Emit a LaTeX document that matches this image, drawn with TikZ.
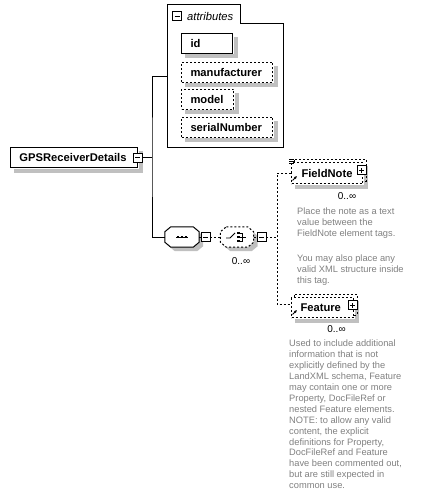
\documentclass[tikz,border=0pt]{standalone}
\usepackage{fontspec}
\setmainfont{Liberation Sans}
\usetikzlibrary{calc,arrows.meta}
\definecolor{doctext}{RGB}{128,128,128}
\definecolor{shadowgray}{RGB}{192,192,192}

% octagon round a node, shifted right and down by (#2,#2)
\newcommand{\octpath}[2]{($(#1.north west)+(6+#2,#2)$) -- ($(#1.north east)+(-6+#2,#2)$) -- ($(#1.north east)+(#2,5+#2)$) -- ($(#1.south east)+(#2,-5+#2)$) -- ($(#1.south east)+(-6+#2,#2)$) -- ($(#1.south west)+(6+#2,#2)$) -- ($(#1.south west)+(#2,-5+#2)$) -- ($(#1.north west)+(#2,5+#2)$) -- cycle}

\begin{document}
\begin{tikzpicture}[
  x=1pt,
  y=-1pt
]

  \path[use as bounding box] (0,0) rectangle (426,497);

  \tikzstyle{elemnode}=[draw,rectangle,fill=white,line width=1pt,minimum height=20pt,inner xsep=9pt,inner ysep=0pt,anchor=north west,align=left,font=\fontsize{11.2}{13}\selectfont\bfseries]
  \tikzstyle{optnode}=[elemnode,dash pattern=on 2pt off 2pt]
  \tikzstyle{octnode}=[rectangle,minimum width=34pt,minimum height=20pt,inner sep=0pt]
  \tikzstyle{minusnode}=[draw,rectangle,fill=white,line width=0.8pt,minimum size=9pt,inner sep=0pt,path picture={\draw[line width=0.8pt] ([xshift=2pt]path picture bounding box.west) -- ([xshift=-2pt]path picture bounding box.east);}]
  \tikzstyle{plusnode}=[minusnode,path picture={\draw[line width=0.8pt] ([xshift=2pt]path picture bounding box.west) -- ([xshift=-2pt]path picture bounding box.east) ([yshift=2pt]path picture bounding box.south) -- ([yshift=-2pt]path picture bounding box.north);}]
  \tikzstyle{docnode}=[anchor=north west,align=left,inner sep=0pt,text=doctext,font=\fontsize{9.3}{10.9}\selectfont]
  \tikzstyle{multnode}=[inner sep=0pt,font=\fontsize{10}{12}\selectfont]

  \tikzstyle{wire}=[draw,line width=1pt]
  \tikzstyle{dashwire}=[wire,dash pattern=on 2pt off 2pt]
  \tikzstyle{stack}=[draw,line width=1pt,dash pattern=on 2pt off 2pt]
  \tikzstyle{icon}=[draw,line width=0.8pt]
  \tikzstyle{refptr}=[draw,-{Latex[length=3pt,width=3pt]},line width=0.8pt]
  \tikzstyle{boxshadow}=[draw=shadowgray,line width=4pt]

  % attribute group
  \draw[line width=1pt] (167,5) -- (240,5) -- (240,24) -- (283,24) -- (283,148) -- (167,148) -- cycle;
  \coordinate (attrs) at (167,77);
  \node[minusnode] (attrbtn) at (177,16) {};
  \node[anchor=west,inner sep=0pt,font=\fontsize{11.2}{13}\selectfont\itshape] (attrlabel) at (187,16) {attributes};

  % nodes
  \node[elemnode,text width=109pt] (gps) at (10,147) {GPSReceiverDetails};

  \node[elemnode,text width=33pt] (id) at (181,33) {id};
  \node[optnode,text width=73pt] (manufacturer) at (181,62) {manufacturer};
  \node[optnode,text width=34pt] (model) at (181,89) {model};
  \node[optnode,text width=73pt] (serialNumber) at (181,117) {serialNumber};

  \node[octnode] (seq) at (182,237) {};
  \node[octnode,minimum width=33pt] (choice) at (237,237) {};

  \node[optnode,inner xsep=10pt,text width=51pt,minimum height=21pt] (fieldnote) at (291,162) {FieldNote};
  \node[optnode,text width=44pt] (feature) at (291,297) {Feature};

  % shadows, as thick strokes along the lower and right sides
  \foreach \n in {gps,id,manufacturer,model,serialNumber,fieldnote,feature}
    \draw[boxshadow] ($(\n.south west)+(4,2.5)$) -- ($(\n.south east)+(2.5,2.5)$) -- ($(\n.north east)+(2.5,4)$);
  \fill[shadowgray] \octpath{seq}{4};
  \fill[shadowgray] \octpath{choice}{4};

  \draw[line width=1pt,fill=white] \octpath{seq}{0};
  \draw[line width=1pt,fill=white,dash pattern=on 2pt off 2pt] \octpath{choice}{0};
  \draw[stack] ([xshift=3pt]fieldnote.north west) -- ++(0,-3) -| ([xshift=3pt,yshift=3pt]fieldnote.south east) -- ([yshift=3pt]fieldnote.south east);
  \draw[stack] ([xshift=3pt]feature.north west) -- ++(0,-3) -| ([xshift=3pt,yshift=3pt]feature.south east) -- ([yshift=3pt]feature.south east);

  % buttons
  \node[minusnode] (gpsbtn) at (137.5,157.5) {};
  \node[minusnode] (seqbtn) at (205.5,237) {};
  \node[minusnode] (choicebtn) at (261.5,237) {};
  \node[plusnode] (fieldnotebtn) at (361.5,170) {};
  \node[plusnode] (featurebtn) at (352.5,305) {};

  \node[multnode] (choicemult) at (241,261) {0..∞};
  \node[multnode] (fieldnotemult) at (347,196) {0..∞};
  \node[multnode] (featuremult) at (336.5,329) {0..∞};

  % icons
  \draw[icon] ([xshift=-6pt]seq.center) -- ([xshift=6pt]seq.center);
  \foreach \dx in {-4,0,4}
    \fill ([xshift=\dx pt]seq.center) +(-1.3,-1.3) rectangle +(1.3,1.3);

  \draw[icon] (226,238) -- (230,238) -- (235,233);
  \foreach \yy in {233,237,241} {
    \fill (237,\yy-1) rectangle (239.5,\yy+1);
    \draw[line width=0.8pt] (239.5,\yy) -- (242.5,\yy);
  }
  \draw[icon] (242.5,233) -- (242.5,241) (242.5,237) -- (246,237);

  \foreach \yy in {159.5,161.5,163.5}
    \draw[line width=0.6pt] (289,\yy) -- (294,\yy);
  \draw[refptr] (292.5,180.5) -- (297,176);
  \draw[refptr] (292.5,314.5) -- (297,310);

  % descriptions
  \node[docnode] (fieldnotedoc) at (297,208) {Place the note as a text\\value between the\\FieldNote element tags.\\[14pt]You may also place any\\valid XML structure inside\\this tag.};
  \node[docnode] (featuredoc) at (289,340) {Used to include additional\\information that is not\\explicitly defined by the\\LandXML schema, Feature\\may contain one or more\\Property, DocFileRef or\\nested Feature elements.\\NOTE: to allow any valid\\content, the explicit\\definitions for Property,\\DocFileRef and Feature\\have been commented out,\\but are still expected in\\common use.};

  % connectors
  \coordinate (fork) at (152,157.5);
  \coordinate (branch) at (277,237);
  \draw[wire] (gpsbtn.east) -- (fork);
  \draw[wire] (attrs) -| (fork) |- (seq.west);
  \draw[wire] (seq.east) -- (seqbtn.west);
  \draw[dashwire] (seqbtn.east) -- (choice.west);
  \draw[dashwire] (choice.east) -- (choicebtn.west);
  \draw[dashwire] (choicebtn.east) -- (branch);
  \draw[dashwire] (fieldnote.west) -| (branch) |- ([yshift=3pt]feature.west);

\end{tikzpicture}
\end{document}
